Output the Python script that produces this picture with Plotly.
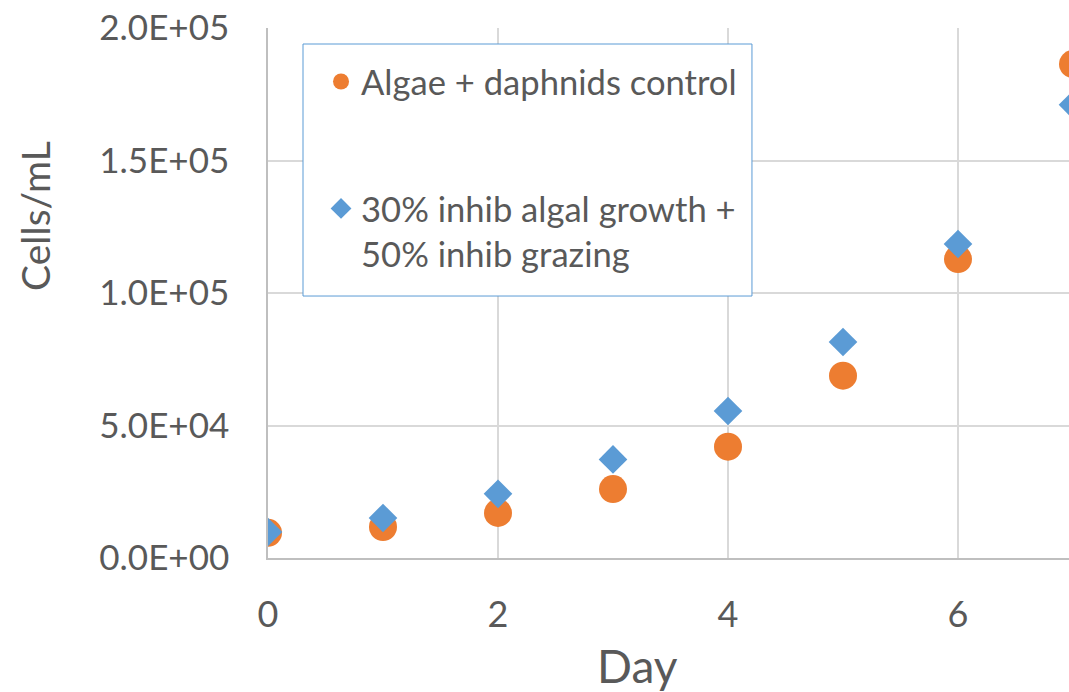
import plotly.graph_objects as go

days = [0, 1, 2, 3, 4, 5, 6, 7]
control = [9500, 11700, 17000, 26000, 42000, 68800, 112800, 186400]
inhib = [9800, 15100, 24200, 37200, 55500, 81500, 118500, 171000]
name_control = "Algae + daphnids control"
name_inhib = "30% inhib algal growth +<br>50% inhib grazing"
y_tickvals = [0, 50000, 100000, 150000, 200000]
y_ticktext = ["0.0E+00", "5.0E+04", "1.0E+05", "1.5E+05", "2.0E+05"]
x_tickvals = [0, 2, 4, 6]
x_title = "Day"
y_title = "Cells/mL"

FONT = "Lato"
TXT = "#595959"

fig = go.Figure()
fig.add_trace(go.Scatter(x=days, y=control, mode="markers", name=name_control,
                         legendgroup="a",
                         marker=dict(symbol="circle", size=28, color="#ED7D31", line=dict(width=0))))
fig.add_trace(go.Scatter(x=days, y=inhib, mode="markers", name=name_inhib,
                         legendgroup="b",
                         marker=dict(symbol="diamond", size=22, color="#5B9BD5", line=dict(width=0))))

# legend frame
fig.add_shape(type="rect", xref="paper", yref="paper",
              x0=0.0437, x1=0.6042, y0=0.4943, y1=0.9698,
              line=dict(color="#5B9BD5", width=1), fillcolor="white", layer="above")

fig.add_annotation(text=x_title, xref="paper", yref="paper", x=0.4607, y=-0.2019,
                   xanchor="center", yanchor="middle", showarrow=False,
                   font=dict(size=46, color=TXT, family=FONT))
fig.add_annotation(text=y_title, xref="paper", yref="paper", x=-0.2909, y=0.6453,
                   xanchor="center", yanchor="middle", showarrow=False, textangle=-90,
                   font=dict(size=39, color=TXT, family=FONT))

fig.update_layout(
    width=1069, height=692,
    margin=dict(l=268, r=0, t=28, b=134),
    paper_bgcolor="white", plot_bgcolor="white",
    font=dict(family=FONT, color=TXT),
    showlegend=True,
    legend=dict(x=0.0662, y=0.9538, xanchor="left", yanchor="top",
                bgcolor="rgba(0,0,0,0)", borderwidth=0, valign="top",
                font=dict(family=FONT, size=34.6, color=TXT),
                tracegroupgap=79, itemsizing="trace"),
    xaxis=dict(range=[0, 801/115], tickvals=x_tickvals, showgrid=True,
               gridcolor="#D9D9D9", gridwidth=1.5, zeroline=False,
               showline=True, linecolor="#BFBFBF", linewidth=1.5,
               ticks="", tickfont=dict(size=36, color=TXT, family=FONT),
               ticklabelstandoff=24),
    yaxis=dict(range=[0, 200000], tickvals=y_tickvals, ticktext=y_ticktext, showgrid=True,
               gridcolor="#D9D9D9", gridwidth=1.5, zeroline=False,
               showline=True, linecolor="#BFBFBF", linewidth=1.5,
               ticks="", tickfont=dict(size=35, color=TXT, family=FONT), ticklabelstandoff=30),
)

fig.write_html("out.html")
